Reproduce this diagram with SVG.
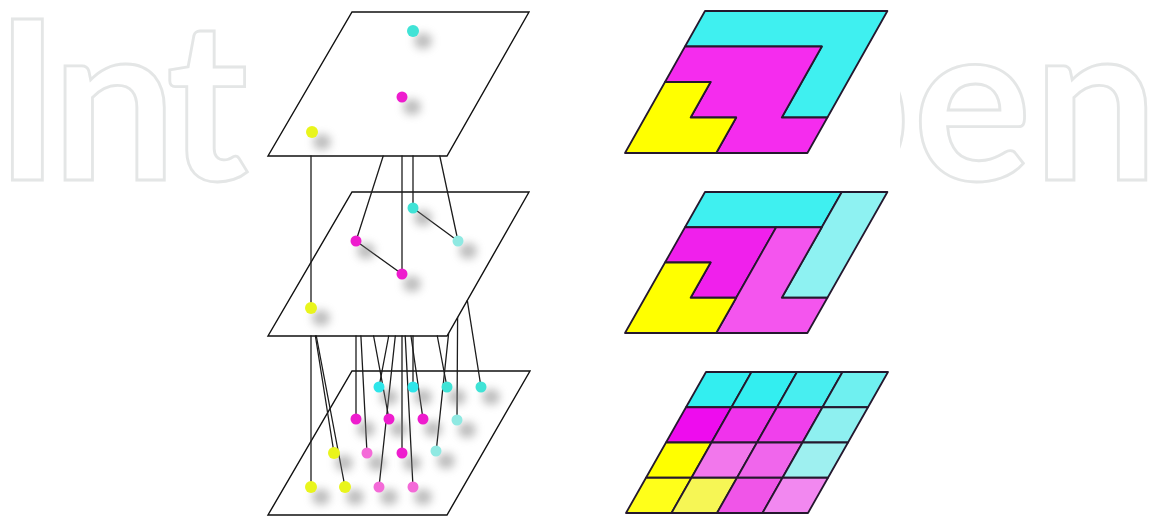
<svg xmlns="http://www.w3.org/2000/svg" width="1149" height="527" viewBox="0 0 1149 527">
<style>
.wm{font-family:Lato,"Open Sans","DejaVu Sans",sans-serif;font-size:222px;font-weight:700;fill:none;stroke:#e4e6e6;stroke-width:2.8}
.pl{fill:#fff;stroke:#111;stroke-width:1.4;stroke-linejoin:miter}
.ln{stroke:#1c1c1c;stroke-width:1.3;fill:none;stroke-linecap:round}
.rp polygon{stroke:#24182e;stroke-width:1.8;stroke-linejoin:round}
.sh{fill:#7c7c7c;opacity:.5;filter:url(#blur)}
.d{filter:url(#soft)}
.cy{fill:#3fe3d6}.cb{fill:#2fe6ea}.lc{fill:#8fe9e2}
.mg{fill:#ee1fce}.pk{fill:#f46ad8}
.ye{fill:#e9f51c}
</style>
<defs>
<filter id="blur" x="-1" y="-1" width="3" height="3"><feGaussianBlur stdDeviation="4.2"/></filter>
<filter id="soft" x="-1" y="-1" width="3" height="3"><feGaussianBlur stdDeviation="0.7"/></filter>
</defs>
<rect width="1149" height="527" fill="#fff"/>
<g id="watermark">
<text class="wm" x="-5.5 51.5 166" y="180">Int</text>
<text class="wm" x="785 913 1033" y="180">pen</text>
<rect x="255" y="0" width="645" height="527" fill="#fff"/>
</g>
<g id="plane-top"><polygon class="pl" points="352,12 529,12 447,156 268,156"/></g>
<g id="plane-middle"><polygon class="pl" points="352,192 529,192 447,336 268,336"/></g>
<g id="plane-bottom"><polygon class="pl" points="352,371 530,371 447,515 268,515"/></g>
<g id="panel-top" class="rp">
<polygon fill="#3ff0f0" points="705,11 887.4,11 827.4,117.5 781.8,117.5 821.8,46.5 685,46.5"/>
<polygon fill="#f52cee" points="685,46.5 821.8,46.5 781.8,117.5 827.4,117.5 807.4,153 716.2,153 736.2,117.5 690.6,117.5 710.6,82 665,82"/>
<polygon fill="#ffff00" points="665,82 710.6,82 690.6,117.5 736.2,117.5 716.2,153 625,153"/>
</g>
<g id="panel-middle" class="rp">
<polygon fill="#3ff0f0" points="705,192 841.8,192 821.8,227.25 685,227.25"/>
<polygon fill="#8ef2f2" points="841.8,192 887.4,192 827.4,297.75 781.8,297.75"/>
<polygon fill="#f020ec" points="685,227.25 776.2,227.25 736.2,297.75 690.6,297.75 710.6,262.5 665,262.5"/>
<polygon fill="#f455ee" points="776.2,227.25 821.8,227.25 781.8,297.75 827.4,297.75 807.4,333 716.2,333"/>
<polygon fill="#ffff00" points="665,262.5 710.6,262.5 690.6,297.75 736.2,297.75 716.2,333 625,333"/>
</g>
<g id="panel-bottom" class="rp">
<polygon fill="#33eef0" points="706,372 751.5,372 731.5,407.25 686,407.25"/>
<polygon fill="#33eef0" points="751.5,372 797,372 777,407.25 731.5,407.25"/>
<polygon fill="#48eef0" points="797,372 842.5,372 822.5,407.25 777,407.25"/>
<polygon fill="#6ff0f0" points="842.5,372 888,372 868,407.25 822.5,407.25"/>
<polygon fill="#ee0cee" points="686,407.25 731.5,407.25 711.5,442.5 666,442.5"/>
<polygon fill="#f033ec" points="731.5,407.25 777,407.25 757,442.5 711.5,442.5"/>
<polygon fill="#f040ec" points="777,407.25 822.5,407.25 802.5,442.5 757,442.5"/>
<polygon fill="#8ef0f0" points="822.5,407.25 868,407.25 848,442.5 802.5,442.5"/>
<polygon fill="#ffff00" points="666,442.5 711.5,442.5 691.5,477.75 646,477.75"/>
<polygon fill="#f277ec" points="711.5,442.5 757,442.5 737,477.75 691.5,477.75"/>
<polygon fill="#f066ec" points="757,442.5 802.5,442.5 782.5,477.75 737,477.75"/>
<polygon fill="#9ef0f0" points="802.5,442.5 848,442.5 828,477.75 782.5,477.75"/>
<polygon fill="#ffff1a" points="646,477.75 691.5,477.75 671.5,513 626,513"/>
<polygon fill="#f6f655" points="691.5,477.75 737,477.75 717,513 671.5,513"/>
<polygon fill="#f055e8" points="737,477.75 782.5,477.75 762.5,513 717,513"/>
<polygon fill="#f288f0" points="782.5,477.75 828,477.75 808,513 762.5,513"/>
</g>
<g id="connectors" class="ln">
<line x1="311" y1="156" x2="311" y2="308"/>
<line x1="402" y1="156" x2="402" y2="274"/>
<line x1="383.2" y1="156" x2="356" y2="241"/>
<line x1="413" y1="156" x2="413" y2="208"/>
<line x1="439.8" y1="156" x2="458" y2="241"/>
<line x1="413" y1="208" x2="458" y2="241"/>
<line x1="356" y1="241" x2="402" y2="274"/>
<line x1="311" y1="336" x2="311" y2="487"/>
<line x1="315.4" y1="336" x2="334" y2="453"/>
<line x1="316.3" y1="336" x2="345" y2="487"/>
<line x1="356" y1="336" x2="356" y2="419"/>
<line x1="373.6" y1="336" x2="389" y2="419"/>
<line x1="360.9" y1="336" x2="367" y2="453"/>
<line x1="411" y1="336" x2="423" y2="419"/>
<line x1="402" y1="336" x2="402" y2="453"/>
<line x1="395.3" y1="336" x2="379" y2="487"/>
<line x1="405.2" y1="336" x2="413" y2="487"/>
<line x1="388.7" y1="336" x2="379" y2="387"/>
<line x1="413" y1="336" x2="413" y2="387"/>
<line x1="437.3" y1="336" x2="447" y2="387"/>
<line x1="467.3" y1="300.3" x2="481" y2="387"/>
<line x1="457.6" y1="317.4" x2="457" y2="419"/>
<line x1="448.6" y1="333.6" x2="436" y2="453"/>
</g>
<g id="t-cyan"><ellipse class="sh" cx="423" cy="41" rx="9" ry="8"/><circle class="d cy" cx="413" cy="31" r="6"/></g>
<g id="t-magenta"><ellipse class="sh" cx="412" cy="107" rx="9" ry="8"/><circle class="d mg" cx="402" cy="97" r="5.5"/></g>
<g id="t-yellow"><ellipse class="sh" cx="322" cy="142" rx="9" ry="8"/><circle class="d ye" cx="312" cy="132" r="6"/></g>
<g id="m-cyan1"><ellipse class="sh" cx="423" cy="218" rx="9" ry="8"/><circle class="d cy" cx="413" cy="208" r="5.5"/></g>
<g id="m-cyan2"><ellipse class="sh" cx="468" cy="251" rx="9" ry="8"/><circle class="d lc" cx="458" cy="241" r="5.5"/></g>
<g id="m-magenta1"><ellipse class="sh" cx="366" cy="251" rx="9" ry="8"/><circle class="d mg" cx="356" cy="241" r="5.5"/></g>
<g id="m-magenta2"><ellipse class="sh" cx="412" cy="284" rx="9" ry="8"/><circle class="d mg" cx="402" cy="274" r="5.5"/></g>
<g id="m-yellow"><ellipse class="sh" cx="321" cy="318" rx="9" ry="8"/><circle class="d ye" cx="311" cy="308" r="6"/></g>
<g id="b-0-0"><ellipse class="sh" cx="389" cy="397" rx="9" ry="8"/><circle class="d cb" cx="379" cy="387" r="5.5"/></g>
<g id="b-0-1"><ellipse class="sh" cx="423" cy="397" rx="9" ry="8"/><circle class="d cb" cx="413" cy="387" r="5.5"/></g>
<g id="b-0-2"><ellipse class="sh" cx="457" cy="397" rx="9" ry="8"/><circle class="d cy" cx="447" cy="387" r="5.5"/></g>
<g id="b-0-3"><ellipse class="sh" cx="491" cy="397" rx="9" ry="8"/><circle class="d cy" cx="481" cy="387" r="5.5"/></g>
<g id="b-1-0"><ellipse class="sh" cx="366" cy="429" rx="9" ry="8"/><circle class="d mg" cx="356" cy="419" r="5.5"/></g>
<g id="b-1-1"><ellipse class="sh" cx="399" cy="429" rx="9" ry="8"/><circle class="d mg" cx="389" cy="419" r="5.5"/></g>
<g id="b-1-2"><ellipse class="sh" cx="433" cy="429" rx="9" ry="8"/><circle class="d mg" cx="423" cy="419" r="5.5"/></g>
<g id="b-1-3"><ellipse class="sh" cx="467" cy="430" rx="9" ry="8"/><circle class="d lc" cx="457" cy="420" r="5.5"/></g>
<g id="b-2-0"><ellipse class="sh" cx="344" cy="463" rx="9" ry="8"/><circle class="d ye" cx="334" cy="453" r="6"/></g>
<g id="b-2-1"><ellipse class="sh" cx="377" cy="463" rx="9" ry="8"/><circle class="d pk" cx="367" cy="453" r="5.5"/></g>
<g id="b-2-2"><ellipse class="sh" cx="412" cy="463" rx="9" ry="8"/><circle class="d mg" cx="402" cy="453" r="5.5"/></g>
<g id="b-2-3"><ellipse class="sh" cx="446" cy="461" rx="9" ry="8"/><circle class="d lc" cx="436" cy="451" r="5.5"/></g>
<g id="b-3-0"><ellipse class="sh" cx="321" cy="497" rx="9" ry="8"/><circle class="d ye" cx="311" cy="487" r="6"/></g>
<g id="b-3-1"><ellipse class="sh" cx="355" cy="497" rx="9" ry="8"/><circle class="d ye" cx="345" cy="487" r="6"/></g>
<g id="b-3-2"><ellipse class="sh" cx="389" cy="497" rx="9" ry="8"/><circle class="d pk" cx="379" cy="487" r="5.5"/></g>
<g id="b-3-3"><ellipse class="sh" cx="423" cy="497" rx="9" ry="8"/><circle class="d pk" cx="413" cy="487" r="5.5"/></g>
</svg>
